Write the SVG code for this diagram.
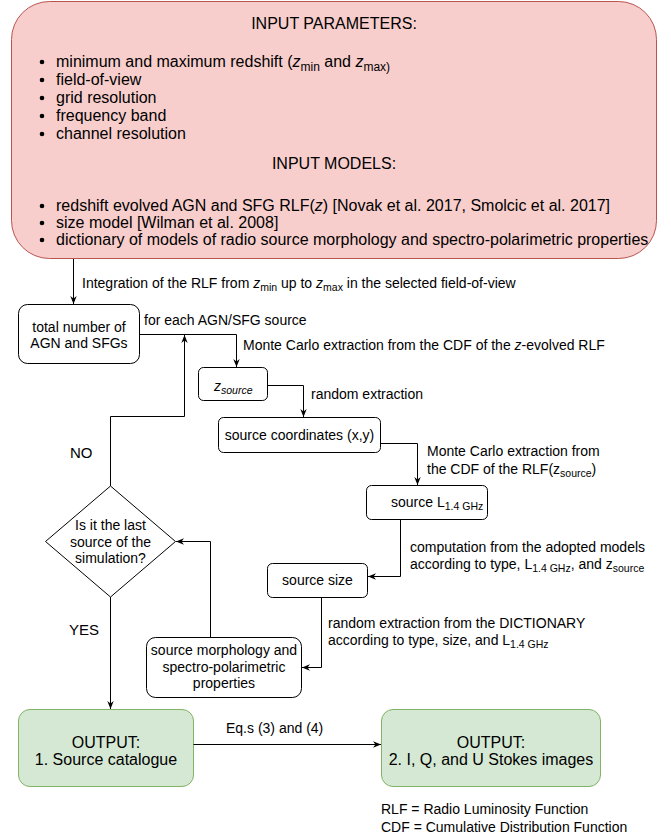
<svg xmlns="http://www.w3.org/2000/svg" width="671" height="839" viewBox="0 0 671 839">
<style>
text{font-family:"Liberation Sans",Arial,sans-serif;fill:#000;}
.t16{font-size:16px;}
.t14{font-size:14px;}
.t15{font-size:15px;}
.c{text-anchor:middle;}
.box{fill:#fff;stroke:#000;stroke-width:1;}
.red{fill:#f8cecc;stroke:#b85450;stroke-width:1;}
.green{fill:#d5e8d4;stroke:#82b366;stroke-width:1;}
.ln{fill:none;stroke:#000;stroke-width:1;}
.it{font-style:italic;}
</style>
<defs>
<marker id="arr" viewBox="0 0 10 10" refX="10" refY="5" markerWidth="8" markerHeight="8" markerUnits="userSpaceOnUse" orient="auto">
<path d="M0,1 L10,5 L0,9 L3,5 z" fill="#000"/>
</marker>
</defs>

<g id="input">
<rect class="red" x="11.5" y="1.5" width="645" height="257" rx="38" ry="38"/>
<text class="t16 c" x="334" y="29">INPUT PARAMETERS:</text>
<g fill="#000">
<circle cx="42" cy="62" r="2.3"/><circle cx="42" cy="80" r="2.3"/><circle cx="42" cy="98" r="2.3"/><circle cx="42" cy="116" r="2.3"/><circle cx="42" cy="134" r="2.3"/>
<circle cx="42" cy="206" r="2.3"/><circle cx="42" cy="223" r="2.3"/><circle cx="42" cy="240" r="2.3"/>
</g>
<text class="t16" x="56" y="67">minimum and maximum redshift (<tspan class="it">z</tspan><tspan dy="4" font-size="12">min</tspan><tspan dy="-4"> and </tspan><tspan class="it">z</tspan><tspan dy="4" font-size="12">max)</tspan></text>
<text class="t16" x="56" y="85">field-of-view</text>
<text class="t16" x="56" y="103">grid resolution</text>
<text class="t16" x="56" y="121">frequency band</text>
<text class="t16" x="56" y="139">channel resolution</text>
<text class="t16 c" x="334" y="169">INPUT MODELS:</text>
<text class="t16" x="56" y="211">redshift evolved AGN and SFG RLF(<tspan class="it">z</tspan>) [Novak et al. 2017, Smolcic et al. 2017]</text>
<text class="t16" x="56" y="228">size model [Wilman et al. 2008]</text>
<text class="t16" x="56" y="245">dictionary of models of radio source morphology and spectro-polarimetric properties</text>
</g>

<g id="total">
<rect class="box" x="18.5" y="304.5" width="121" height="59" rx="9" ry="9"/>
<text class="t14 c" x="79" y="332">total number of</text>
<text class="t14 c" x="79" y="348">AGN and SFGs</text>
</g>

<g id="zsource">
<rect class="box" x="198.5" y="367.5" width="69" height="33" rx="5" ry="5"/>
<text class="t14" x="214" y="391"><tspan class="it">z</tspan><tspan class="it" dy="3" font-size="10.5">source</tspan></text>
</g>

<g id="coords">
<rect class="box" x="218.5" y="417.5" width="162" height="35" rx="5" ry="5"/>
<text class="t14 c" x="299.5" y="440">source coordinates (x,y)</text>
</g>

<g id="lum">
<rect class="box" x="366.5" y="485.5" width="121" height="34" rx="5" ry="5"/>
<text class="t14" x="391" y="507">source L<tspan dy="3" font-size="10.5">1.4 GHz</tspan></text>
</g>

<g id="size">
<rect class="box" x="267.5" y="563.5" width="100" height="34" rx="5" ry="5"/>
<text class="t14 c" x="317.5" y="585">source size</text>
</g>

<g id="morph">
<rect class="box" x="146.5" y="637.5" width="155" height="60" rx="9" ry="9"/>
<text class="t14 c" x="224" y="655">source morphology and</text>
<text class="t14 c" x="224" y="672">spectro-polarimetric</text>
<text class="t14 c" x="224" y="688">properties</text>
</g>

<g id="decision">
<polygon class="box" points="110.5,486 175.5,541.5 110.5,597 45.5,541.5"/>
<text class="t14 c" x="110.5" y="530">Is it the last</text>
<text class="t14 c" x="110.5" y="547">source of the</text>
<text class="t14 c" x="110.5" y="563">simulation?</text>
</g>

<g id="out1">
<rect class="green" x="18.5" y="709.5" width="175" height="77" rx="11.5" ry="11.5"/>
<text class="t16 c" x="106" y="748">OUTPUT:</text>
<text class="t16 c" x="106" y="765">1. Source catalogue</text>
</g>

<g id="out2">
<rect class="green" x="381.5" y="709.5" width="219" height="77" rx="11.5" ry="11.5"/>
<text class="t16 c" x="491" y="748">OUTPUT:</text>
<text class="t16 c" x="491" y="765">2. I, Q, and U Stokes images</text>
</g>

<g id="connectors">
<path class="ln" d="M73.5,259 V304" marker-end="url(#arr)"/>
<path class="ln" d="M139.5,334.5 H236.5 V367" marker-end="url(#arr)"/>
<path class="ln" d="M110.5,486 V416.5 H184.5 V335" marker-end="url(#arr)"/>
<path class="ln" d="M267.5,385.5 H303.5 V417" marker-end="url(#arr)"/>
<path class="ln" d="M380.5,443.5 H417.5 V485" marker-end="url(#arr)"/>
<path class="ln" d="M400.5,519.5 V576.5 H368" marker-end="url(#arr)"/>
<path class="ln" d="M321.5,597.5 V667.5 H302" marker-end="url(#arr)"/>
<path class="ln" d="M210.5,637.5 V541.5 H176" marker-end="url(#arr)"/>
<path class="ln" d="M110.5,597 V709" marker-end="url(#arr)"/>
<path class="ln" d="M193.5,744.5 H381" marker-end="url(#arr)"/>
</g>

<g id="labels">
<text class="t14" x="82" y="288">Integration of the RLF from <tspan class="it">z</tspan><tspan dy="3" font-size="10.5">min</tspan><tspan dy="-3"> up to </tspan><tspan class="it">z</tspan><tspan dy="3" font-size="10.5">max</tspan><tspan dy="-3"> in the selected field-of-view</tspan></text>
<text class="t14" x="144" y="325">for each AGN/SFG source</text>
<text class="t14" x="243" y="350">Monte Carlo extraction from the CDF of the <tspan class="it">z</tspan>-evolved RLF</text>
<text class="t14" x="311" y="399">random extraction</text>
<text class="t14" x="427" y="456">Monte Carlo extraction from</text>
<text class="t14" x="427" y="474">the CDF of the RLF(z<tspan dy="3" font-size="10.5">source</tspan><tspan dy="-3">)</tspan></text>
<text class="t14" x="410" y="552">computation from the adopted models</text>
<text class="t14" x="410" y="569">according to type, L<tspan dy="3" font-size="10.5">1.4 GHz</tspan><tspan dy="-3">, and z</tspan><tspan dy="3" font-size="10.5">source</tspan></text>
<text class="t14" x="328" y="628">random extraction from the DICTIONARY</text>
<text class="t14" x="328" y="645">according to type, size, and L<tspan dy="3" font-size="10.5">1.4 GHz</tspan></text>
<text class="t15" x="70" y="458">NO</text>
<text class="t15" x="69" y="635">YES</text>
<text class="t14" x="226" y="733">Eq.s (3) and (4)</text>
<text class="t14" x="381" y="814">RLF = Radio Luminosity Function</text>
<text class="t14" x="381" y="832">CDF = Cumulative Distribution Function</text>
</g>
</svg>
